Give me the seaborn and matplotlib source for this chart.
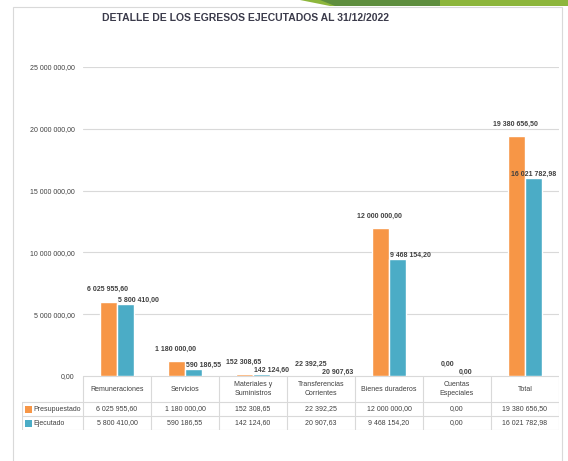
import pandas as pd
import matplotlib.pyplot as plt
import matplotlib.patches as mpatches
import seaborn as sns

# Datos del gráfico
categorias = ['Remuneraciones', 'Servicios', 'Materiales y\nSuministros', 'Transferencias\nCorrientes',
              'Bienes duraderos', 'Cuentas\nEspeciales', 'Total']
presupuestado = [6025955.60, 1180000.00, 152308.65, 22392.25, 12000000.00, 0.00, 19380656.50]
ejecutado = [5800410.00, 590186.55, 142124.60, 20907.63, 9468154.20, 0.00, 16021782.98]
series = ['Presupuestado', 'Ejecutado']
colores = ['#F79646', '#4BACC6']
titulo = 'DETALLE DE LOS EGRESOS EJECUTADOS AL 31/12/2022'


def fmt(v):
    # formato con espacio de miles y coma decimal
    return f'{v:,.2f}'.replace(',', ' ').replace('.', ',')


df = pd.DataFrame({
    'categoria': categorias * 2,
    'valor': presupuestado + ejecutado,
    'serie': [series[0]] * len(categorias) + [series[1]] * len(categorias),
})

sns.set_style('white')
plt.rcParams['font.family'] = ['Liberation Sans Narrow', 'Liberation Sans', 'DejaVu Sans']

W, H = 568, 461
fig = plt.figure(figsize=(W / 100, H / 100), dpi=100)
fig.patch.set_facecolor('white')

# Marco del área del gráfico
fig.add_artist(mpatches.Rectangle((13 / W, -0.01), (562 - 13) / W, (H - 7) / H + 0.01,
                                  transform=fig.transFigure, fill=False, edgecolor='#D9D9D9', lw=0.8))
# Decoración verde de la diapositiva (arriba a la derecha)
fig.add_artist(mpatches.Polygon([(300 / W, 1), (568 / W, 1), (568 / W, (H - 6) / H), (330 / W, (H - 6) / H)],
                                transform=fig.transFigure, color='#8DB63C', lw=0))
fig.add_artist(mpatches.Polygon([(320 / W, 1), (440 / W, 1), (440 / W, (H - 6) / H), (335 / W, (H - 6) / H)],
                                transform=fig.transFigure, color='#5E8E3E', lw=0))

# Área de trazado
ax = fig.add_axes([83 / W, (H - 376) / H, (559 - 83) / W, (376 - 67) / H])
sns.barplot(data=df, x='categoria', y='valor', hue='serie', palette=colores,
            width=0.49, ax=ax, legend=False, saturation=1)
ax.set_xlim(-0.5, len(categorias) - 0.5)
ax.set_ylim(0, 25000000)
ax.set_yticks(range(0, 25000001, 5000000))
ax.set_yticklabels([fmt(t) for t in ax.get_yticks()], fontsize=5, color='#404040')
ax.tick_params(axis='y', length=0, pad=6)
ax.set_xticks([])
ax.set_xlabel('')
ax.set_ylabel('')
ax.grid(axis='y', color='#D9D9D9', lw=0.8)
ax.set_axisbelow(True)
for s in ax.spines.values():
    s.set_visible(False)

# Etiquetas de datos
for i, bar in enumerate(ax.containers[0]):
    x = bar.get_x() + bar.get_width() / 2
    ax.annotate(fmt(presupuestado[i]), (x, bar.get_height()), xytext=(-1, 6), textcoords='offset points',
                ha='center', va='bottom', fontsize=5, fontweight='bold', color='#404040')
for i, bar in enumerate(ax.containers[1]):
    if i == len(categorias) - 1:
        x, ha, dx = bar.get_x() + bar.get_width() / 2, 'center', 0
    else:
        x, ha, dx = bar.get_x(), 'left', 1
    ax.annotate(fmt(ejecutado[i]), (x, bar.get_height()), xytext=(dx, 0), textcoords='offset points',
                ha=ha, va='bottom', fontsize=5, fontweight='bold', color='#404040')

fig.text(245 / W, (H - 18) / H, titulo, ha='center', va='center', fontsize=7.5,
         fontweight='bold', color='#3B3B4B')

# Tabla de datos
n = len(categorias)
lab_w = 61 / 68
tax = fig.add_axes([22 / W, (H - 430) / H, (559 - 22) / W, (430 - 376) / H])
tax.set_xlim(-lab_w, n)
tax.set_ylim(54, 0)
tax.axis('off')
gc = '#D9D9D9'
# líneas horizontales
tax.plot([0, n], [0, 0], color=gc, lw=0.8)
for yy in (26, 40, 54):
    tax.plot([-lab_w, n], [yy, yy], color=gc, lw=0.8)
# líneas verticales
for xx in range(n + 1):
    tax.plot([xx, xx], [0, 54], color=gc, lw=0.8)
tax.plot([-lab_w, -lab_w], [26, 54], color=gc, lw=0.8)
for i, c in enumerate(categorias):
    tax.text(i + 0.5, 13, c, ha='center', va='center', fontsize=5, color='#404040', linespacing=1.3)
    tax.text(i + 0.5, 33, fmt(presupuestado[i]), ha='center', va='center', fontsize=5, color='#404040')
    tax.text(i + 0.5, 47, fmt(ejecutado[i]), ha='center', va='center', fontsize=5, color='#404040')
for j, (s, col) in enumerate(zip(series, colores)):
    yc = 33 + 14 * j
    tax.add_patch(mpatches.Rectangle((-lab_w + 0.05, yc - 3.5), 0.09, 7, color=col, lw=0))
    tax.text(-lab_w + 0.17, yc, s, ha='left', va='center', fontsize=5, color='#404040')

fig.savefig('out.png', dpi=100, facecolor='white')
